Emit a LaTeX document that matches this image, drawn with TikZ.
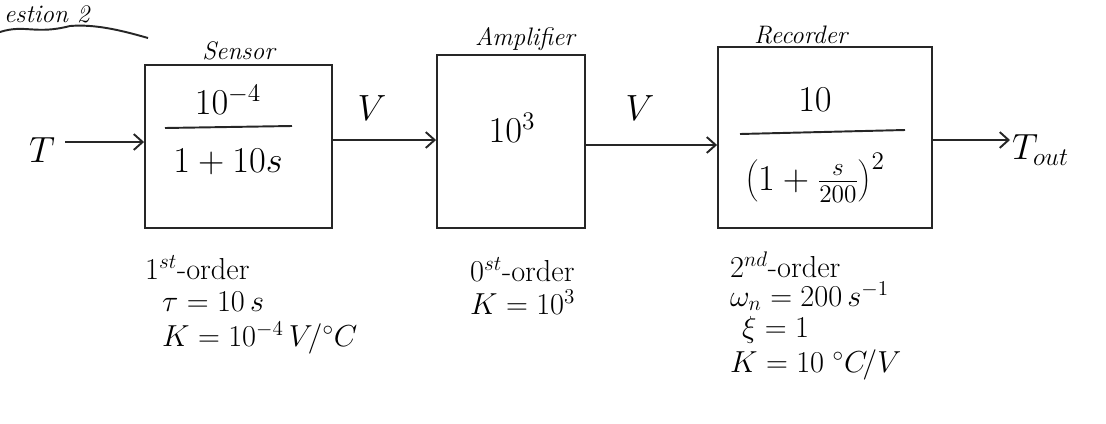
\documentclass[tikz,border=0pt]{standalone}
\usetikzlibrary{arrows.meta,positioning}
\begin{document}
\begin{tikzpicture}[x=0.02cm,y=-0.02cm,
  ink/.style={draw=black!85,line width=1.1pt},
  blockbox/.style={ink,rectangle,inner sep=0pt},
  flow/.style={ink,-{Straight Barb[length=5pt,width=9pt]}},
  tag/.style={font=\Large\itshape,inner sep=1pt},
  note/.style={font=\LARGE,inner sep=1pt,anchor=west},
  big/.style={font=\huge,inner sep=1pt}]
\useasboundingbox (0,0) rectangle (1106,423);

% heading with its wavy underline
\node[font=\Large\itshape,anchor=west,inner sep=1pt] (head) at (2,14) {estion 2};
\draw[ink] (0,32) .. controls (25,24) and (35,35) .. (70,26) .. controls (95,24) and (120,30) .. (148,38);

% blocks
\node[blockbox,minimum width=3.74cm,minimum height=3.26cm] (sens) at (238.5,146.5) {};
\node[blockbox,minimum width=2.96cm,minimum height=3.46cm] (amp) at (511,141.5) {};
\node[blockbox,minimum width=4.28cm,minimum height=3.62cm] (rec) at (825,137.5) {};

\node[tag,above=1pt of sens.north] (senslbl) {Sensor};
\node[tag,above=1pt of amp.north,xshift=8pt] (amplbl) {Amplifier};
\node[tag,anchor=south west] (reclbl) at (752,46) {Recorder};

% transfer functions
\node[big] (sensnum) at (228,100) {$10^{-4}$};
\draw[ink] (165,128) -- (292,126);
\node[big] (sensden) at (228,162) {$1+10s$};
\node[big] (ampgain) at (512,128) {$10^{3}$};
\node[big] (recnum) at (815,100) {$10$};
\draw[ink] (740,134) -- (905,130);
\node[big] (recden) at (815,178) {$\left(1+\frac{s}{200}\right)^{2}$};

% signals
\node[big] (tin) at (42,150) {$T$};
\node[big] (v1) at (372,108) {$V$};
\node[big] (v2) at (640,108) {$V$};
\node[big,anchor=west] (tout) at (1010,150) {$T_{out}$};

\draw[flow] (tin.east) ++(8,-8) coordinate (tinout) -- (sens.west |- tinout);
\draw[flow] (sens.east |- 0,140) -- (amp.west |- 0,140);
\draw[flow] (amp.east |- 0,145) -- (rec.west |- 0,145);
\draw[flow] (rec.east |- 0,140) -- (tout.west |- 0,140);

% block properties
\node[note] (s1) at (143,268) {$1^{st}$-order};
\node[note] (s2) at (160,302) {$\tau=10\,s$};
\node[note] (s3) at (160,338) {$K=10^{-4}\,V\!/{}^\circ C$};
\node[note] (a1) at (468,270) {$0^{st}$-order};
\node[note] (a2) at (468,302) {$K=10^{3}$};
\node[note] (r1) at (728,265) {$2^{nd}$-order};
\node[note] (r2) at (728,296) {$\omega_n=200\,s^{-1}$};
\node[note] (r3) at (740,330) {$\xi=1$};
\node[note] (r4) at (728,365) {$K=10\;{}^\circ C\!/V$};
\end{tikzpicture}
\end{document}
